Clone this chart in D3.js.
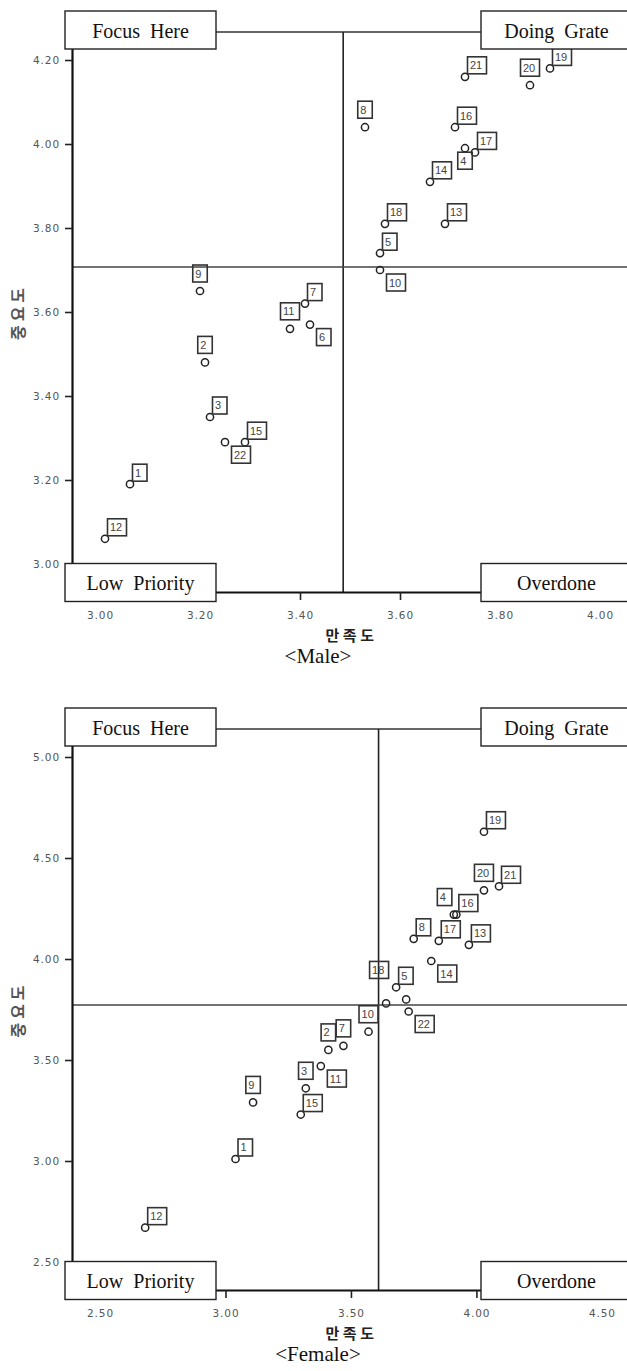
<!DOCTYPE html>
<html>
<head>
<meta charset="utf-8">
<script src="https://cdn.jsdelivr.net/npm/d3@7"></script>
<style>
  html, body { margin: 0; padding: 0; background: #fff; }
  svg { display: block; }
</style>
</head>
<body>
<svg id="chart" width="627" height="1371"></svg>
<script>
// Survey items 1–22
const items = d3.range(1, 23);

// Male respondents: satisfaction (만족도) and importance (중요도) per item
const maleSatisfaction = [3.06, 3.21, 3.22, 3.73, 3.56, 3.42, 3.41, 3.53, 3.20, 3.56, 3.38,
                          3.01, 3.69, 3.66, 3.29, 3.71, 3.75, 3.57, 3.90, 3.86, 3.73, 3.25];
const maleImportance   = [3.19, 3.48, 3.35, 3.99, 3.74, 3.57, 3.62, 4.04, 3.65, 3.70, 3.56,
                          3.06, 3.81, 3.91, 3.29, 4.04, 3.98, 3.81, 4.18, 4.14, 4.16, 3.29];

// Female respondents
const femaleSatisfaction = [3.04, 3.41, 3.32, 3.91, 3.68, 3.72, 3.47, 3.75, 3.11, 3.57, 3.38,
                            2.68, 3.97, 3.82, 3.30, 3.92, 3.85, 3.64, 4.03, 4.03, 4.09, 3.73];
const femaleImportance   = [3.01, 3.55, 3.36, 4.22, 3.86, 3.80, 3.57, 4.10, 3.29, 3.64, 3.47,
                            2.67, 4.07, 3.99, 3.23, 4.22, 4.09, 3.78, 4.63, 4.34, 4.36, 3.74];

// Tick values
const maleXTicks   = [3.00, 3.20, 3.40, 3.60, 3.80, 4.00];
const maleYTicks   = [3.00, 3.20, 3.40, 3.60, 3.80, 4.00, 4.20];
const femaleXTicks = [2.50, 3.00, 3.50, 4.00, 4.50];
const femaleYTicks = [2.50, 3.00, 3.50, 4.00, 4.50, 5.00];

// Text
const quadrantNames = { tl: "Focus  Here", tr: "Doing  Grate", bl: "Low  Priority", br: "Overdone" };
const xTitle = "만족도";
const yTitle = "중요도";
const captions = ["<Male>", "<Female>"];

// Where each item's number tag sits around its marker (null = no tag)
const maleTagSpots = {
  1: "ur", 2: "u", 3: "ur", 4: "d", 5: "ur", 6: "lr", 7: "ur", 8: "u", 9: "u", 10: "lr", 11: "u",
  12: "ur", 13: "ur", 14: "ur", 15: "ur", 16: "ur", 17: "ur", 18: "ur", 19: "ur", 20: "u", 21: "ur", 22: "lr"
};
const femaleTagSpots = {
  1: "ur", 2: "u", 3: "u", 4: "ul", 5: "ur", 6: null, 7: "u", 8: "ur", 9: "u", 10: "u", 11: "lr",
  12: "ur", 13: "ur", 14: "lr", 15: "ur", 16: "ur", 17: "ur", 18: "uh", 19: "ur", 20: "u", 21: "ur", 22: "lr"
};

// Tag box offset (top-left corner relative to the marker) for each spot
function tagOffset(spot, w, h) {
  switch (spot) {
    case "ur": return [2.5, -3 - h];
    case "u":  return [-w / 2, -9 - h];
    case "lr": return [6.5, 4];
    case "d":  return [-w / 2, 4];
    case "ul": return [-2 - w, -9 - h];
    case "uh": return [-7 - w / 2, -25 - h];
  }
  return [2.5, -3 - h];
}

const svg = d3.select("#chart");
const plotLeft = 72, plotRight = 627;

const panels = [
  { sat: maleSatisfaction, imp: maleImportance, xTicks: maleXTicks, yTicks: maleYTicks,
    xDomain: [2.944, 4.054], yDomain: [2.9333, 4.2667], top: 32, bottom: 592,
    spots: maleTagSpots, caption: captions[0] },
  { sat: femaleSatisfaction, imp: femaleImportance, xTicks: femaleXTicks, yTicks: femaleYTicks,
    xDomain: [2.3884, 4.6], yDomain: [2.3614, 5.1386], top: 729, bottom: 1290,
    spots: femaleTagSpots, caption: captions[1] }
];

panels.forEach(drawPanel);

function drawPanel(p) {
  const x = d3.scaleLinear().domain(p.xDomain).range([plotLeft, plotRight]);
  const y = d3.scaleLinear().domain(p.yDomain).range([p.bottom, p.top]);
  const g = svg.append("g");

  // upper frame line
  g.append("line")
    .attr("x1", plotLeft).attr("x2", plotRight)
    .attr("y1", p.top).attr("y2", p.top)
    .attr("stroke", "#333").attr("stroke-width", 1.6);

  // crosshair at the mean satisfaction / importance
  const mx = d3.mean(p.sat), my = d3.mean(p.imp);
  g.append("line")
    .attr("x1", x(mx)).attr("x2", x(mx))
    .attr("y1", p.top).attr("y2", p.bottom)
    .attr("stroke", "#222").attr("stroke-width", 1.6);
  g.append("line")
    .attr("x1", plotLeft).attr("x2", plotRight)
    .attr("y1", y(my)).attr("y2", y(my))
    .attr("stroke", "#444").attr("stroke-width", 1.6);

  // axes
  const fmt = d3.format(".2f");
  const yAxis = d3.axisLeft(y).tickValues(p.yTicks).tickFormat(fmt)
    .tickSize(7).tickSizeOuter(0).tickPadding(5);
  const xAxis = d3.axisBottom(x).tickValues(p.xTicks).tickFormat(fmt)
    .tickSize(8).tickSizeOuter(0).tickPadding(12);

  const gy = g.append("g").attr("transform", `translate(${plotLeft},0)`).call(yAxis);
  const gx = g.append("g").attr("transform", `translate(0,${p.bottom})`).call(xAxis);
  [gy, gx].forEach(a => {
    a.select(".domain").attr("stroke", "#111").attr("stroke-width", 2.2);
    a.selectAll(".tick line").attr("stroke", "#222").attr("stroke-width", 1.6);
    a.selectAll(".tick text")
      .attr("fill", "#555")
      .style("font-family", "'DejaVu Sans', sans-serif")
      .style("font-size", "10.5px")
      .style("letter-spacing", "0.9px");
  });

  // points
  const pts = items.map((id, i) => ({ id, sx: p.sat[i], sy: p.imp[i] }));
  g.append("g").selectAll("circle").data(pts).join("circle")
    .attr("cx", d => x(d.sx)).attr("cy", d => y(d.sy)).attr("r", 3.6)
    .attr("fill", "none").attr("stroke", "#222").attr("stroke-width", 1.5);

  // item number tags
  const tagH = 17;
  const tags = g.append("g").selectAll("g").data(pts.filter(d => p.spots[d.id]))
    .join("g")
    .attr("transform", d => {
      const w = String(d.id).length > 1 ? 19 : 14.5;
      const [dx, dy] = tagOffset(p.spots[d.id], w, tagH);
      return `translate(${x(d.sx) + dx},${y(d.sy) + dy})`;
    });
  tags.append("rect")
    .attr("width", d => String(d.id).length > 1 ? 19 : 14.5)
    .attr("height", tagH)
    .attr("fill", "none").attr("stroke", "#333").attr("stroke-width", 1.6);
  tags.append("text")
    .attr("x", 2.5).attr("y", 12.5)
    .attr("fill", "#444")
    .style("font-family", "'Liberation Sans', Arial, sans-serif")
    .style("font-size", "11px")
    .text(d => d.id);

  // quadrant name boxes
  const boxW = 151, boxH = 38;
  const boxes = [
    { key: "tl", bx: 65,  by: p.top - 21 },
    { key: "tr", bx: 481, by: p.top - 21 },
    { key: "bl", bx: 65,  by: p.bottom - 28.5 },
    { key: "br", bx: 481, by: p.bottom - 28.5 }
  ];
  const qb = g.append("g").selectAll("g").data(boxes).join("g")
    .attr("transform", d => `translate(${d.bx},${d.by})`);
  qb.append("rect")
    .attr("width", boxW).attr("height", boxH)
    .attr("fill", "#fff").attr("stroke", "#222").attr("stroke-width", 1.4);
  qb.append("text")
    .attr("x", boxW / 2).attr("y", 26.5)
    .attr("text-anchor", "middle")
    .attr("fill", "#111")
    .style("font-family", "'Liberation Serif', 'Times New Roman', serif")
    .style("font-size", "20px")
    .style("white-space", "pre")
    .text(d => quadrantNames[d.key]);

  // axis titles
  g.append("text")
    .attr("x", (plotLeft + plotRight) / 2 + 2).attr("y", p.bottom + 48.5)
    .attr("text-anchor", "middle")
    .attr("fill", "#222")
    .style("font-family", "'Noto Sans CJK KR', sans-serif")
    .style("font-weight", "bold")
    .style("font-size", "15px")
    .style("letter-spacing", "3.5px")
    .text(xTitle);
  g.append("text")
    .attr("transform", `translate(24,${(p.top + p.bottom) / 2}) rotate(-90)`)
    .attr("text-anchor", "middle")
    .attr("fill", "#555")
    .style("font-family", "'Noto Sans CJK KR', sans-serif")
    .style("font-weight", "bold")
    .style("font-size", "16px")
    .style("letter-spacing", "4px")
    .text(yTitle);

  // panel caption
  g.append("text")
    .attr("x", 318).attr("y", p.bottom + 71)
    .attr("text-anchor", "middle")
    .attr("fill", "#111")
    .style("font-family", "'Liberation Serif', 'Times New Roman', serif")
    .style("font-size", "21px")
    .text(p.caption);
}
</script>
</body>
</html>
